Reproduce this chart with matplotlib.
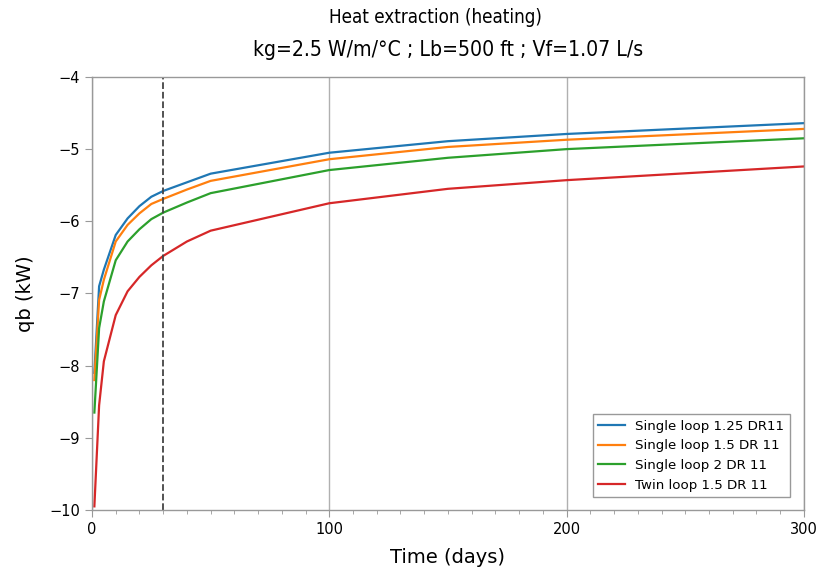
import matplotlib
matplotlib.use("Agg")
import matplotlib.pyplot as plt
from matplotlib.ticker import MultipleLocator

time_days = [1, 3, 5, 10, 15, 20, 25, 30, 40, 50, 100, 150, 200, 300]
single_125 = [-8.10, -6.90, -6.67, -6.19, -5.96, -5.79, -5.66, -5.58, -5.46, -5.34, -5.05, -4.89, -4.79, -4.64]
single_15 = [-8.20, -7.09, -6.81, -6.28, -6.05, -5.89, -5.76, -5.69, -5.56, -5.44, -5.14, -4.97, -4.87, -4.72]
single_2 = [-8.65, -7.48, -7.11, -6.54, -6.28, -6.11, -5.97, -5.88, -5.74, -5.61, -5.29, -5.12, -5.00, -4.85]
twin_15 = [-9.95, -8.55, -7.94, -7.30, -6.97, -6.77, -6.61, -6.48, -6.28, -6.13, -5.75, -5.55, -5.43, -5.24]
labels = ["Single loop 1.25 DR11", "Single loop 1.5 DR 11", "Single loop 2 DR 11", "Twin loop 1.5 DR 11"]
colors = ["#1f77b4", "#ff7f0e", "#2ca02c", "#d62728"]
design_day = 30

fig = plt.figure(figsize=(8.17, 5.70), dpi=100)
ax = fig.add_axes([0.1126, 0.1053, 0.8714, 0.7597])

for ys, lab, c in zip([single_125, single_15, single_2, twin_15], labels, colors):
    ax.plot(time_days, ys, color=c, lw=1.6, label=lab)

ax.axvline(design_day, color="#444444", ls="--", lw=1.3)

ax.set_xlim(0, 300)
ax.set_ylim(-10, -4)
ax.xaxis.set_major_locator(MultipleLocator(100))
ax.xaxis.set_minor_locator(MultipleLocator(10))
ax.yaxis.set_major_locator(MultipleLocator(1))
ax.grid(axis="x", which="major", color="#b0b0b0", lw=1.0)
ax.set_axisbelow(True)

for s in ax.spines.values():
    s.set_color("#999999")
    s.set_linewidth(1.0)
ax.tick_params(which="major", length=5, color="#999999", labelsize=10.5, direction="out")
ax.tick_params(which="minor", length=3, color="#999999", direction="out")

ax.set_xlabel("Time (days)", fontsize=14, labelpad=8)
ax.set_ylabel("qb (kW)", fontsize=14, labelpad=10)

fig.text(0.533, 0.97, "Heat extraction (heating)", ha="center", va="center",
         fontsize=13.5, family="DejaVu Sans", stretch="condensed")
fig.text(0.548, 0.912, "kg=2.5 W/m/°C ; Lb=500 ft ; Vf=1.07 L/s", ha="center", va="center",
         fontsize=15.2, family="DejaVu Sans", stretch="condensed")

leg = ax.legend(loc="lower right", fontsize=9.6, fancybox=False, edgecolor="#999999",
                framealpha=1.0, borderaxespad=0.0, bbox_to_anchor=(0.980, 0.030))
leg.get_frame().set_linewidth(1.0)

fig.savefig("out.png", dpi=100)
